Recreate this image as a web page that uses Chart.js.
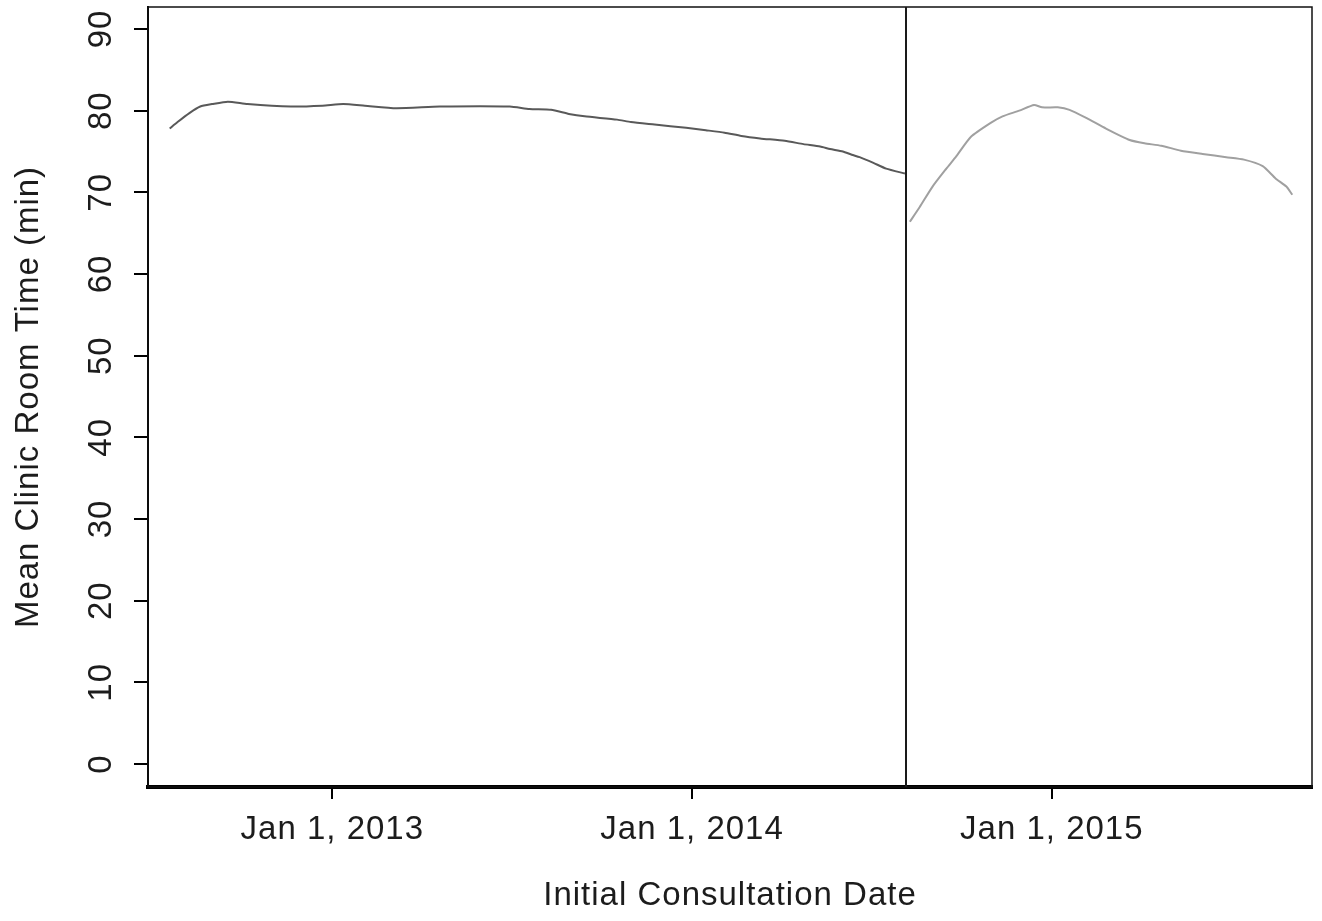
<!DOCTYPE html>
<html>
<head>
<meta charset="utf-8">
<title>Mean Clinic Room Time</title>
<script src="https://cdn.jsdelivr.net/npm/chart.js@4.4.1/dist/chart.umd.min.js"></script>
<style>
  html, body { margin: 0; padding: 0; background: #ffffff; }
  canvas { display: block; }
</style>
</head>
<body>
<canvas id="chart" width="1322" height="921"></canvas>
<script>
// Period before the workflow change
const preDates = [
  '2012-07-20', '2012-07-28', '2012-08-09', '2012-08-20', '2012-09-01', '2012-09-17',
  '2012-10-07', '2012-11-20', '2012-12-22', '2013-01-12', '2013-02-03', '2013-03-07',
  '2013-04-20', '2013-06-30', '2013-07-20', '2013-08-11', '2013-08-29', '2013-09-14',
  '2013-10-17', '2013-10-31', '2013-11-24', '2013-12-26', '2014-01-15', '2014-02-03',
  '2014-02-20', '2014-03-11', '2014-04-05', '2014-04-24', '2014-05-11', '2014-05-21',
  '2014-06-03', '2014-06-12', '2014-06-20', '2014-07-04', '2014-07-17', '2014-08-05'
];
const preMinutes = [
  77.8, 78.6, 79.7, 80.5, 80.8, 81.1,
  80.8, 80.5, 80.6, 80.8, 80.6, 80.3,
  80.5, 80.5, 80.2, 80.1, 79.6, 79.3,
  78.9, 78.6, 78.3, 77.9, 77.6, 77.3,
  76.9, 76.6, 76.3, 75.9, 75.6, 75.3,
  75.0, 74.6, 74.3, 73.6, 72.9, 72.3
];

// Period after the workflow change
const postDates = [
  '2014-08-10', '2014-08-20', '2014-09-02', '2014-09-16', '2014-09-26', '2014-10-11',
  '2014-10-31', '2014-11-12', '2014-11-29', '2014-12-14', '2014-12-22', '2015-01-07',
  '2015-01-19', '2015-02-05', '2015-02-25', '2015-03-21', '2015-04-05', '2015-04-22',
  '2015-05-12', '2015-06-03', '2015-06-27', '2015-07-15', '2015-08-03', '2015-08-16',
  '2015-08-27', '2015-09-02'
];
const postMinutes = [
  66.4, 68.2, 70.7, 72.9, 74.4, 76.8,
  78.5, 79.3, 80.0, 80.7, 80.4, 80.4,
  80.1, 79.1, 77.8, 76.4, 76.0, 75.7,
  75.1, 74.7, 74.3, 74.0, 73.2, 71.7,
  70.7, 69.7
];

const changeDate = '2014-08-06';
const xTickDates = ['2013-01-01', '2014-01-01', '2015-01-01'];
const yTickValues = [0, 10, 20, 30, 40, 50, 60, 70, 80, 90];
const xRange = ['2012-06-28', '2015-09-22'];
const yRange = [-2.82, 92.69];

const monthNames = ['Jan', 'Feb', 'Mar', 'Apr', 'May', 'Jun', 'Jul', 'Aug', 'Sep', 'Oct', 'Nov', 'Dec'];

const toTime = s => Date.parse(s + 'T00:00:00Z');
const formatDate = t => {
  const d = new Date(t);
  return monthNames[d.getUTCMonth()] + ' ' + d.getUTCDate() + ', ' + d.getUTCFullYear();
};
const toPoints = (dates, values) => dates.map((d, i) => ({ x: toTime(d), y: values[i] }));

const FONT = { family: '"Liberation Sans", Arial, sans-serif', size: 33, lineHeight: 1 };
const TEXT = '#1c1c1c';

// Slightly open letter spacing for all canvas text
const spacing = {
  id: 'spacing',
  beforeUpdate(chart) { chart.ctx.letterSpacing = '1px'; },
  beforeDraw(chart) { chart.ctx.letterSpacing = '1px'; }
};

// Plot frame and the vertical marker at the change date
const frame = {
  id: 'frame',
  afterDatasetsDraw(chart) {
    const { ctx, chartArea: a, scales: { x } } = chart;
    ctx.save();
    ctx.strokeStyle = '#111';
    ctx.lineWidth = 1.5;
    ctx.strokeRect(a.left, a.top, a.right - a.left, a.bottom - a.top);
    const px = Math.round(x.getPixelForValue(toTime(changeDate)));
    ctx.lineWidth = 2;
    ctx.strokeStyle = '#1a1a1a';
    ctx.beginPath();
    ctx.moveTo(px, a.top);
    ctx.lineTo(px, a.bottom);
    ctx.stroke();
    ctx.restore();
  }
};

// Fixed axis boxes, no extra room reserved for label overhang
const fixBox = (w, h) => s => {
  if (w !== null) s.width = w;
  if (h !== null) s.height = h;
  s.paddingTop = 0;
  s.paddingBottom = 0;
  s.paddingLeft = 0;
  s.paddingRight = 0;
};

new Chart(document.getElementById('chart'), {
  type: 'line',
  data: {
    datasets: [
      {
        label: 'Before',
        data: toPoints(preDates, preMinutes),
        borderColor: '#595959',
        borderWidth: 2,
        pointRadius: 0,
        tension: 0.2,
        fill: false
      },
      {
        label: 'After',
        data: toPoints(postDates, postMinutes),
        borderColor: '#a0a0a0',
        borderWidth: 2,
        pointRadius: 0,
        tension: 0.2,
        fill: false
      }
    ]
  },
  options: {
    responsive: false,
    animation: false,
    layout: { padding: { top: 7, right: 10, left: 0, bottom: 0 } },
    plugins: {
      legend: { display: false },
      tooltip: { enabled: false }
    },
    scales: {
      x: {
        type: 'linear',
        position: 'bottom',
        min: toTime(xRange[0]),
        max: toTime(xRange[1]),
        afterBuildTicks: s => { s.ticks = xTickDates.map(d => ({ value: toTime(d) })); },
        afterFit: fixBox(null, 134),
        border: { display: true, color: '#000', width: 4 },
        grid: { drawOnChartArea: false, drawTicks: true, tickLength: 12, color: '#000', lineWidth: 2 },
        ticks: {
          autoSkip: false,
          maxRotation: 0,
          minRotation: 0,
          padding: 14,
          color: TEXT,
          font: FONT,
          callback: v => formatDate(v)
        },
        title: {
          display: true,
          text: 'Initial Consultation Date',
          color: TEXT,
          font: FONT,
          padding: { top: 0, bottom: 9 }
        }
      },
      y: {
        type: 'linear',
        position: 'left',
        min: yRange[0],
        max: yRange[1],
        afterBuildTicks: s => { s.ticks = yTickValues.map(v => ({ value: v })); },
        afterFit: fixBox(148, null),
        border: { display: true, color: '#000', width: 2 },
        grid: { drawOnChartArea: false, drawTicks: true, tickLength: 14, color: '#000', lineWidth: 2 },
        ticks: {
          autoSkip: false,
          minRotation: 90,
          maxRotation: 90,
          crossAlign: 'center',
          padding: 13,
          color: TEXT,
          font: FONT,
          callback: v => String(v)
        },
        title: {
          display: true,
          text: 'Mean Clinic Room Time (min)',
          color: TEXT,
          font: FONT,
          padding: { top: 12, bottom: 0 }
        }
      }
    }
  },
  plugins: [spacing, frame]
});
</script>
</body>
</html>
